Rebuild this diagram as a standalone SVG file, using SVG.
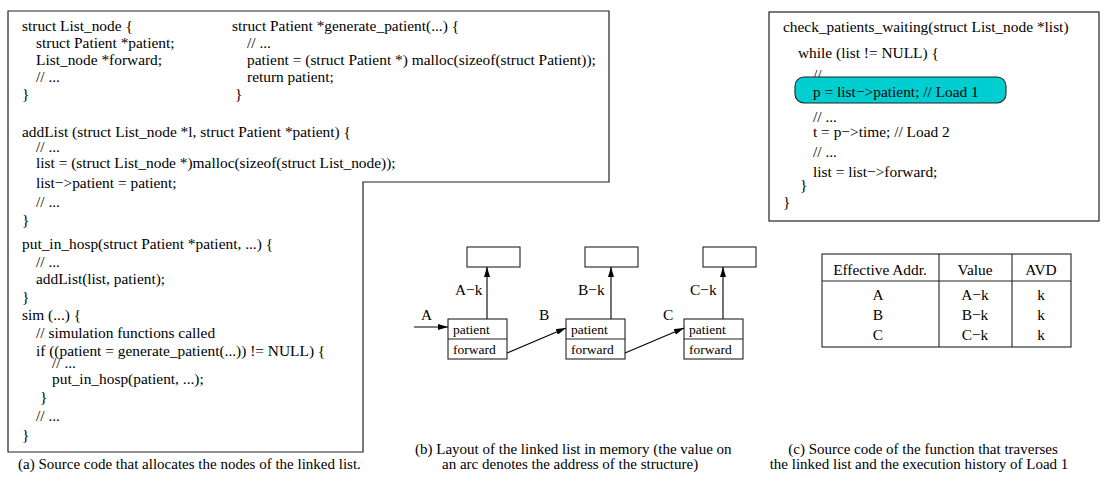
<svg xmlns="http://www.w3.org/2000/svg" width="1106" height="481" viewBox="0 0 1106 481">
  <style>
    text { font-family: "Liberation Serif", "Times New Roman", serif; fill: #000; }
    .code { font-size: 15.4px; }
    .cap { font-size: 15px; }
    .fld { font-size: 13.5px; }
    .lbl { font-size: 15.4px; }
    .frame { fill: #fff; stroke: #222; stroke-width: 1.2; }
    .box { fill: #fff; stroke: #222; stroke-width: 1.1; }
    .edge { fill: none; stroke: #000; stroke-width: 1.1; }
    .hl { fill: #00CED1; stroke: #222; stroke-width: 1.1; }
  </style>
  <defs>
    <marker id="arrow" viewBox="0 0 10 6" refX="10" refY="3" markerWidth="10" markerHeight="6" markerUnits="userSpaceOnUse" orient="auto">
      <path d="M0,0 L10,3 L0,6 Z" fill="#000"/>
    </marker>
  </defs>
  <rect width="1106" height="481" fill="#fff"/>

  <!-- (a) allocation code: L-shaped frame -->
  <g id="panel-a">
    <path class="frame" d="M8,11 H609 V182 H363 V452 H8 Z"/>
    <text class="code" x="22" y="31">struct List_node {</text>
    <text class="code" x="36" y="48">struct Patient *patient;</text>
    <text class="code" x="36" y="65">List_node *forward;</text>
    <text class="code" x="36" y="82">// ...</text>
    <text class="code" x="22" y="99">}</text>

    <text class="code" x="232" y="31">struct Patient *generate_patient(...) {</text>
    <text class="code" x="247" y="48">// ...</text>
    <text class="code" x="247" y="65">patient = (struct Patient *) malloc(sizeof(struct Patient));</text>
    <text class="code" x="247" y="82">return patient;</text>
    <text class="code" x="235" y="99">}</text>

    <text class="code" x="22" y="137">addList (struct List_node *l, struct Patient *patient) {</text>
    <text class="code" x="36" y="152">// ...</text>
    <text class="code" x="36" y="168">list = (struct List_node *)malloc(sizeof(struct List_node));</text>
    <text class="code" x="36" y="188">list−&gt;patient = patient;</text>
    <text class="code" x="36" y="207">// ...</text>
    <text class="code" x="22" y="225">}</text>

    <text class="code" x="22" y="249">put_in_hosp(struct Patient *patient, ...) {</text>
    <text class="code" x="36" y="267">// ...</text>
    <text class="code" x="36" y="284">addList(list, patient);</text>
    <text class="code" x="22" y="302">}</text>
    <text class="code" x="22" y="320">sim (...) {</text>
    <text class="code" x="36" y="338">// simulation functions called</text>
    <text class="code" x="36" y="356">if ((patient = generate_patient(...)) != NULL) {</text>
    <text class="code" x="52" y="368">// ...</text>
    <text class="code" x="52" y="384">put_in_hosp(patient, ...);</text>
    <text class="code" x="40" y="402">}</text>
    <text class="code" x="36" y="421">// ...</text>
    <text class="code" x="22" y="440">}</text>
  </g>
  <text class="cap" x="18" y="469">(a) Source code that allocates the nodes of the linked list.</text>

  <!-- (b) linked list in memory -->
  <g id="target-a"><rect class="box" x="467" y="247" width="53" height="20"/></g>
  <g id="target-b"><rect class="box" x="585" y="247" width="53" height="20"/></g>
  <g id="target-c"><rect class="box" x="703" y="247" width="53" height="20"/></g>

  <g id="node-a">
    <rect class="box" x="448" y="319" width="59" height="40"/>
    <line class="box" x1="448" y1="339" x2="507" y2="339"/>
    <text class="fld" x="453" y="334">patient</text>
    <text class="fld" x="453" y="354">forward</text>
  </g>
  <g id="node-b">
    <rect class="box" x="566" y="319" width="59" height="40"/>
    <line class="box" x1="566" y1="339" x2="625" y2="339"/>
    <text class="fld" x="571" y="334">patient</text>
    <text class="fld" x="571" y="354">forward</text>
  </g>
  <g id="node-c">
    <rect class="box" x="684" y="319" width="59" height="40"/>
    <line class="box" x1="684" y1="339" x2="743" y2="339"/>
    <text class="fld" x="689" y="334">patient</text>
    <text class="fld" x="689" y="354">forward</text>
  </g>

  <g id="connectors">
    <line class="edge" x1="414" y1="327" x2="448" y2="327" marker-end="url(#arrow)"/>
    <line class="edge" x1="487" y1="319" x2="487" y2="267" marker-end="url(#arrow)"/>
    <line class="edge" x1="611" y1="319" x2="611" y2="267" marker-end="url(#arrow)"/>
    <line class="edge" x1="723" y1="319" x2="723" y2="267" marker-end="url(#arrow)"/>
    <line class="edge" x1="507" y1="353" x2="566" y2="328" marker-end="url(#arrow)"/>
    <line class="edge" x1="625" y1="353" x2="684" y2="328" marker-end="url(#arrow)"/>
  </g>

  <g id="edge-labels">
    <text class="lbl" x="421" y="320">A</text>
    <text class="lbl" x="539" y="320">B</text>
    <text class="lbl" x="663" y="320">C</text>
    <text class="lbl" x="455" y="295">A−k</text>
    <text class="lbl" x="578" y="295">B−k</text>
    <text class="lbl" x="690" y="295">C−k</text>
  </g>

  <text class="cap" x="415" y="454">(b) Layout of the linked list in memory (the value on</text>
  <text class="cap" x="442" y="469">an arc denotes the address of the structure)</text>

  <!-- (c) traversal code -->
  <g id="panel-c">
    <rect class="frame" x="769" y="12" width="330" height="209"/>
    <text class="code" x="783" y="32">check_patients_waiting(struct List_node *list)</text>
    <text class="code" x="798" y="58">while (list != NULL) {</text>
    <text class="code" x="813" y="80">// ...</text>
    <rect class="hl" x="795" y="77" width="211" height="26" rx="9" ry="9"/>
    <text class="code" x="813" y="97">p = list−&gt;patient; // Load 1</text>
    <text class="code" x="813" y="122">// ...</text>
    <text class="code" x="813" y="137">t = p−&gt;time; // Load 2</text>
    <text class="code" x="813" y="157">// ...</text>
    <text class="code" x="813" y="177">list = list−&gt;forward;</text>
    <text class="code" x="800" y="190">}</text>
    <text class="code" x="783" y="207">}</text>
  </g>

  <g id="history-table">
    <rect class="box" x="822" y="254" width="249" height="93"/>
    <line class="box" x1="822" y1="281" x2="1071" y2="281"/>
    <line class="box" x1="939" y1="254" x2="939" y2="347"/>
    <line class="box" x1="1012" y1="254" x2="1012" y2="347"/>
    <g text-anchor="middle" class="lbl">
      <text x="880" y="275">Effective Addr.</text>
      <text x="975" y="275">Value</text>
      <text x="1041" y="275">AVD</text>
      <text x="878" y="300">A</text>
      <text x="975" y="300">A−k</text>
      <text x="1041" y="300">k</text>
      <text x="878" y="320">B</text>
      <text x="975" y="320">B−k</text>
      <text x="1041" y="320">k</text>
      <text x="878" y="340">C</text>
      <text x="975" y="340">C−k</text>
      <text x="1041" y="340">k</text>
    </g>
  </g>

  <text class="cap" x="923" y="454" text-anchor="middle">(c) Source code of the function that traverses</text>
  <text class="cap" x="919" y="469" text-anchor="middle">the linked list and the execution history of Load 1</text>
</svg>
